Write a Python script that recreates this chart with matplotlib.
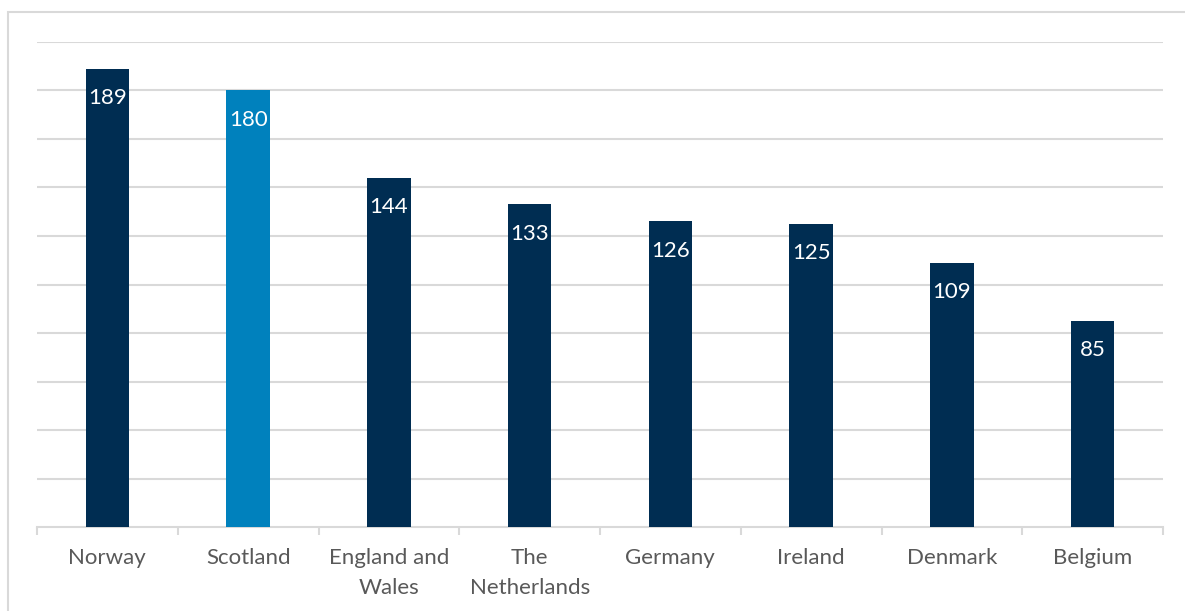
import matplotlib.pyplot as plt
from matplotlib.patches import Rectangle

countries = ['Norway', 'Scotland', 'England and\nWales', 'The\nNetherlands',
             'Germany', 'Ireland', 'Denmark', 'Belgium']
values = [189, 180, 144, 133, 126, 125, 109, 85]
colors = ['#002D52', '#0081BD', '#002D52', '#002D52',
          '#002D52', '#002D52', '#002D52', '#002D52']

plt.rcParams['font.family'] = ['Lato', 'DejaVu Sans']

fig = plt.figure(figsize=(11.85, 6.11), dpi=100)
ax = fig.add_axes([37 / 1185, 1 - 527 / 611, (1163 - 37) / 1185, (527 - 42) / 611])

# chart border
fig.patches.append(Rectangle((8 / 1185, -0.1), 1.2, 1 - 12 / 611 + 0.1,
                             transform=fig.transFigure, fill=False,
                             edgecolor='#d9d9d9', linewidth=1.5))

x = range(len(countries))
bars = ax.bar(x, values, width=0.31, color=colors, zorder=3)

for xi, v in zip(x, values):
    ax.annotate(str(v), (xi, v), xytext=(0, -14), textcoords='offset points',
                ha='center', va='top', color='white', fontsize=16, zorder=4)

ax.set_xlim(-0.5, len(countries) - 0.5)
ax.set_ylim(0, 200)
ax.set_yticks(range(20, 201, 20))
ax.yaxis.grid(True, color='#d9d9d9', linewidth=1.5, zorder=0)
ax.tick_params(axis='y', left=False, labelleft=False)

ax.set_xticks(x)
ax.set_xticklabels(countries, fontsize=16, color='#595959', linespacing=1.65)
ax.tick_params(axis='x', length=0, pad=15)
ax.set_xticks([i - 0.5 for i in range(len(countries) + 1)], minor=True)
ax.tick_params(axis='x', which='minor', length=6, width=1.5, color='#d9d9d9')

for side in ['left', 'right', 'top']:
    ax.spines[side].set_visible(False)
ax.spines['bottom'].set_color('#d9d9d9')
ax.spines['bottom'].set_linewidth(1.5)

fig.savefig('out.png', dpi=100)
